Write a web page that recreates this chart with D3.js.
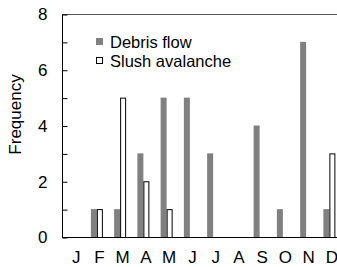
<html>
<head>
  <script src="https://d3js.org/d3.v7.min.js"></script>
  <style>
    body { margin: 0; background: white; }
    text { font-family: "Liberation Sans", Arial, sans-serif; }
  </style>
</head>
<body>
  <svg id="chart" width="337" height="267"></svg>
  <script>
    // monthly frequencies
    const months = ["J", "F", "M", "A", "M", "J", "J", "A", "S", "O", "N", "D"];
    const debris = [0, 1, 1, 3, 5, 5, 3, 0, 4, 1, 7, 1];
    const slush = [0, 1, 5, 2, 1, 0, 0, 0, 0, 0, 0, 3];
    const yTicks = [0, 2, 4, 6, 8];
    const seriesNames = ["Debris flow", "Slush avalanche"];

    let svg = d3.select("#chart");
    let margins = {top: 14, right: -4, bottom: 30, left: 62};
    let width = svg.attr("width");
    let height = svg.attr("height");

    const xScale = d3.scaleBand().domain(d3.range(12))
      .range([margins.left, width - margins.right]);
    const yScale = d3.scaleLinear().domain([0, 8])
      .range([height - margins.bottom, margins.top]);

    const barW = 6;

    // top frame line
    svg.append("line")
      .attr("x1", margins.left).attr("x2", width)
      .attr("y1", yScale(8) + 0.5).attr("y2", yScale(8) + 0.5)
      .attr("stroke", "#555").attr("stroke-width", 1);

    let bars = svg.append("g");
    bars.selectAll("rect.debris").data(debris).join("rect")
      .attr("class", "debris")
      .attr("x", (d, i) => xScale(i) + xScale.bandwidth() / 2 - barW)
      .attr("y", d => yScale(d))
      .attr("width", barW)
      .attr("height", d => yScale(0) - yScale(d))
      .attr("fill", "#808080");

    bars.selectAll("rect.slush").data(slush).join("rect")
      .attr("class", "slush")
      .attr("x", (d, i) => xScale(i) + xScale.bandwidth() / 2 + 0.5)
      .attr("y", d => yScale(d) + 0.5)
      .attr("width", barW - 1)
      .attr("height", d => yScale(0) - yScale(d))
      .attr("fill", "white")
      .attr("stroke", "black")
      .attr("stroke-width", 1)
      .attr("display", d => d > 0 ? null : "none");

    // y axis with inward ticks
    let leftAxis = d3.axisLeft(yScale).tickValues(d3.range(0, 9)).tickSize(-5).tickPadding(15)
      .tickFormat(d => yTicks.includes(d) ? d : "");
    let yg = svg.append("g")
      .attr("transform", `translate(${margins.left + 0.5},0.5)`)
      .call(leftAxis);
    yg.select(".domain").attr("d", `M0,${yScale(8)}V${yScale(0)}`);
    yg.selectAll("text").style("font-size", "17px").attr("fill", "black");

    // x axis
    let bottomAxis = d3.axisBottom(xScale).tickSize(0).tickPadding(13)
      .tickFormat(i => months[i]);
    let xg = svg.append("g")
      .attr("transform", `translate(0,${yScale(0) + 0.5})`)
      .call(bottomAxis);
    xg.select(".domain").attr("d", `M${margins.left},0H${width}`);
    xg.selectAll("text").style("font-size", "17px").attr("fill", "black")
      .attr("dx", 2.5);

    // y label
    svg.append("text")
      .attr("transform", `translate(21,${(yScale(0) + yScale(8)) / 2 - 11}) rotate(-90)`)
      .attr("text-anchor", "middle")
      .style("font-size", "17px")
      .text("Frequency");

    // legend
    let legend = svg.append("g");
    seriesNames.forEach((name, i) => {
      let ly = 42 + i * 19;
      legend.append("rect")
        .attr("x", i == 0 ? 96 : 96.5).attr("y", i == 0 ? ly - 4 : ly - 3.5)
        .attr("width", i == 0 ? 7 : 6).attr("height", i == 0 ? 7 : 6)
        .attr("fill", i == 0 ? "#808080" : "white")
        .attr("stroke", i == 0 ? "none" : "black");
      legend.append("text")
        .attr("x", 110).attr("y", ly + 6)
        .style("font-size", "16.5px")
        .text(name);
    });
  </script>
</body>
</html>
